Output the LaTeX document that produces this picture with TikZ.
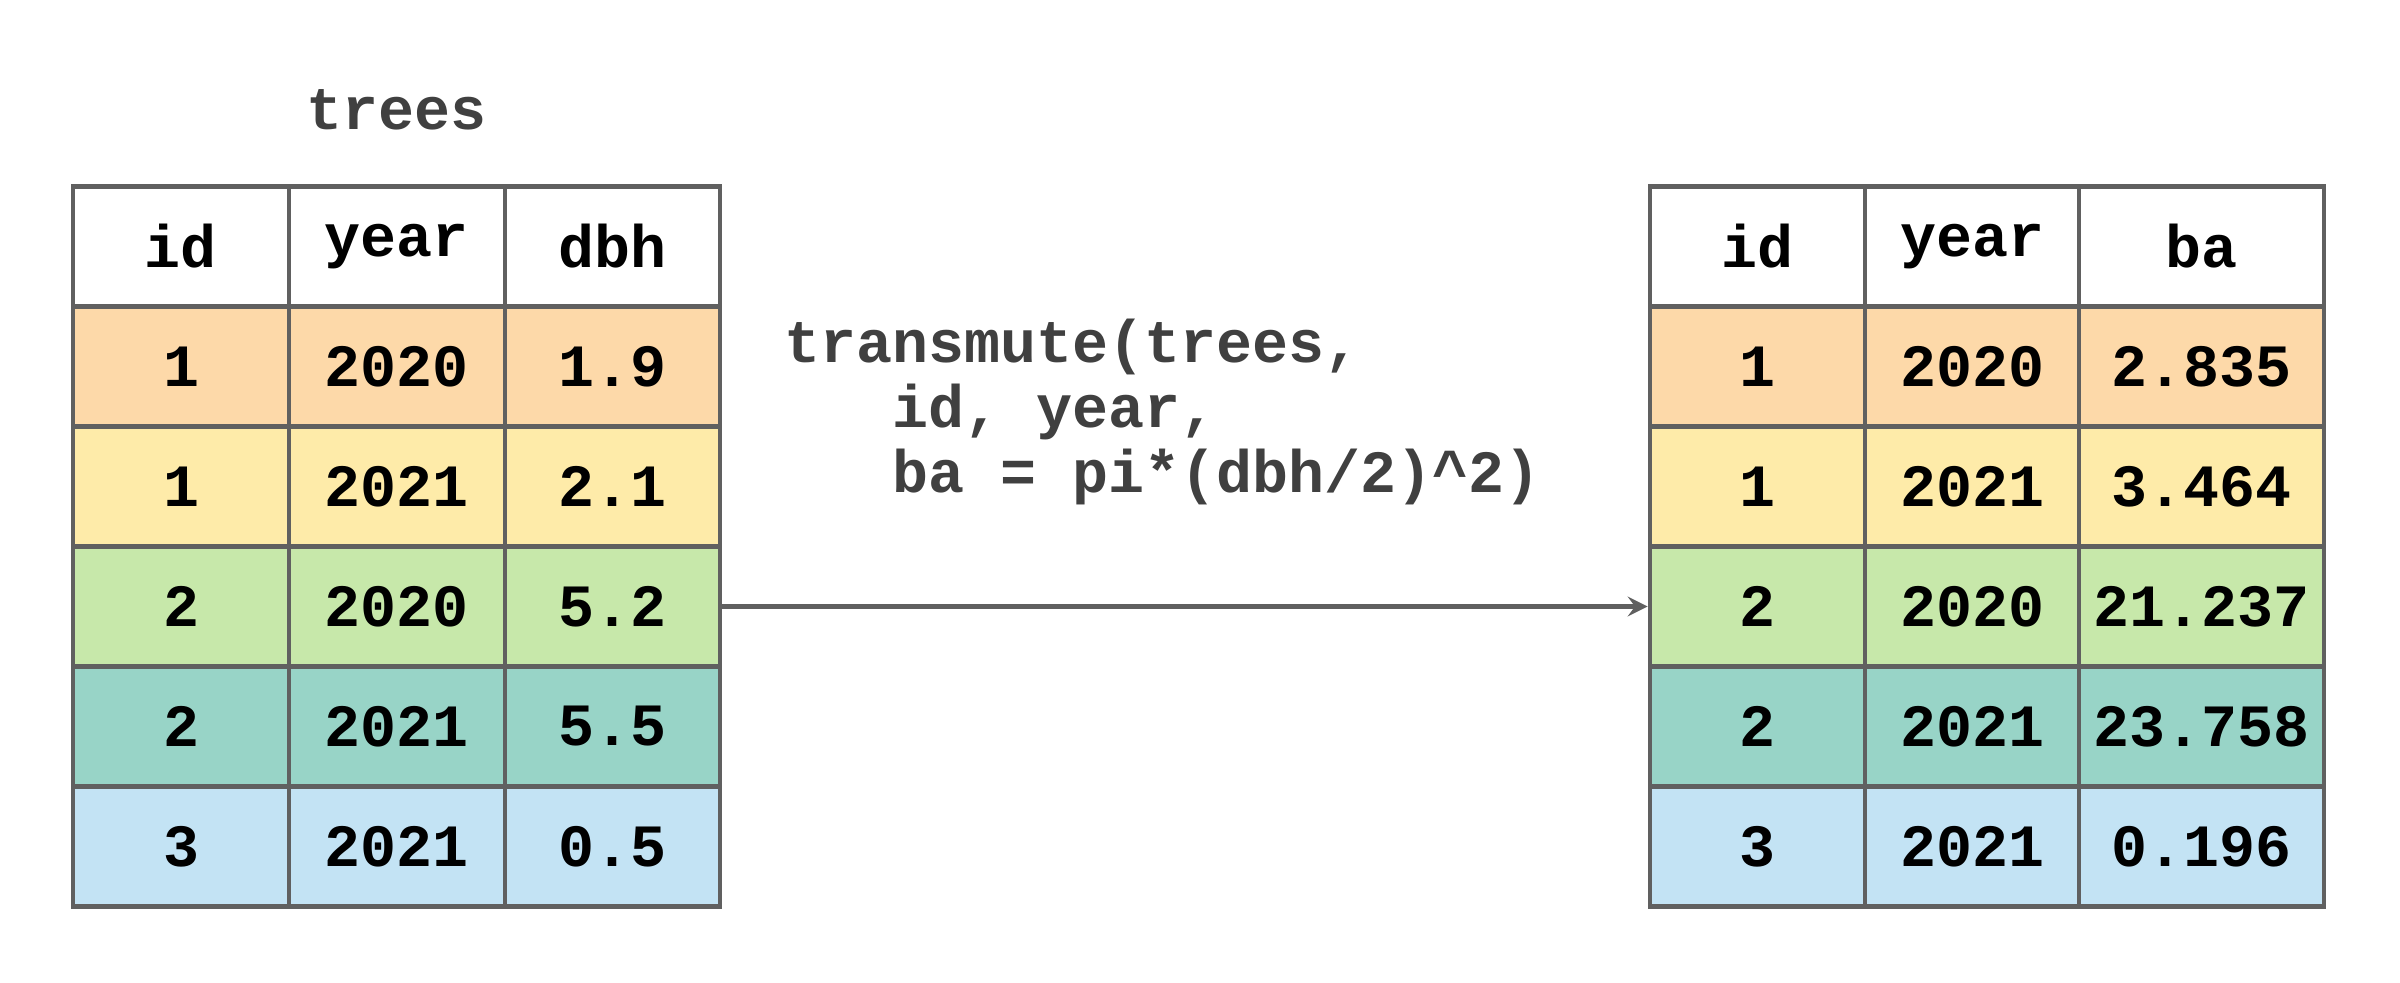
\documentclass[tikz,border=0pt]{standalone}
\usepackage{fontspec}
\setmonofont{Liberation Mono}
\usepackage{tikz}
\usetikzlibrary{positioning}
\definecolor{gridgray}{HTML}{606060}
\definecolor{codegray}{HTML}{404040}
\definecolor{rowA}{HTML}{FDD9A9}
\definecolor{rowB}{HTML}{FEEBA9}
\definecolor{rowC}{HTML}{C7E8AA}
\definecolor{rowD}{HTML}{98D4C7}
\definecolor{rowE}{HTML}{C3E3F4}
\tikzset{
  cell/.style={draw=gridgray, line width=1.4pt, inner sep=0pt,
    font=\ttfamily\bfseries\fontsize{18}{20}\selectfont, text=black,
    minimum height=36pt},
  code/.style={font=\ttfamily\bfseries\fontsize{18}{19.5}\selectfont,
    text=codegray, align=left, inner sep=0pt}
}
\begin{document}
\begin{tikzpicture}[x=0.3pt, y=-0.3pt, >=stealth]
  \useasboundingbox (0,0) rectangle (2400,983);
  % left table
  \foreach \r/\fill/\a/\b/\c in {0/white/id/year/dbh, 1/rowA/1/2020/1.9,
      2/rowB/1/2021/2.1, 3/rowC/2/2020/5.2, 4/rowD/2/2021/5.5, 5/rowE/3/2021/0.5} {
    \node[cell, fill=\fill, minimum width=64.8pt] (L-\r-1) at (181,{246.5+120*\r}) {\a};
    \node[cell, fill=\fill, minimum width=64.8pt] (L-\r-2) at (397,{246.5+120*\r}) {\b};
    \node[cell, fill=\fill, minimum width=64.5pt] (L-\r-3) at (612.5,{246.5+120*\r}) {\c};
  }
  % right table
  \foreach \r/\fill/\a/\b/\c in {0/white/id/year/ba, 1/rowA/1/2020/2.835,
      2/rowB/1/2021/3.464, 3/rowC/2/2020/21.237, 4/rowD/2/2021/23.758, 5/rowE/3/2021/0.196} {
    \node[cell, fill=\fill, minimum width=64.5pt] (R-\r-1) at (1757.5,{246.5+120*\r}) {\a};
    \node[cell, fill=\fill, minimum width=64.2pt] (R-\r-2) at (1972,{246.5+120*\r}) {\b};
    \node[cell, fill=\fill, minimum width=73.5pt] (R-\r-3) at (2201.5,{246.5+120*\r}) {\c};
  }
  \node[code, above=16pt of L-0-2] (title) {trees};
  \node[code, anchor=north west] (call) at (784,318)
    {transmute(trees,\\\ \ \ id, year,\\\ \ \ ba = pi*(dbh/2)\textasciicircum 2)};
  \draw[->, draw=gridgray, line width=1.6pt] (L-3-3.east) -- (R-3-1.west);
\end{tikzpicture}
\end{document}
